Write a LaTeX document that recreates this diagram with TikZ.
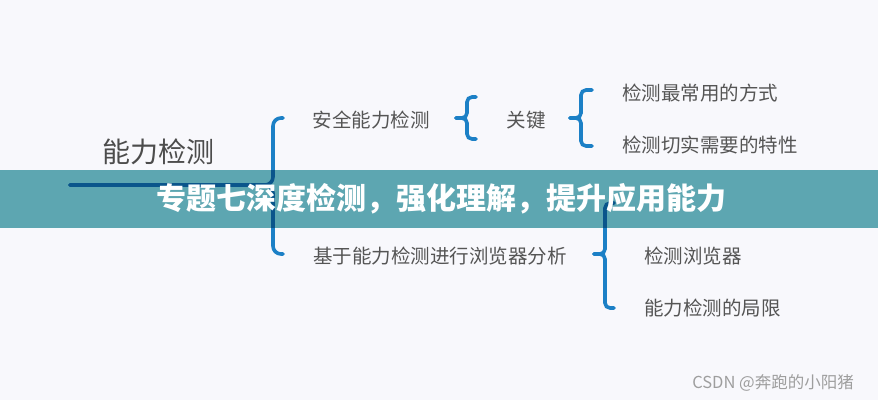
\documentclass[tikz,border=0pt]{standalone}
\usepackage{fontspec}
\setmainfont{Noto Sans CJK SC}
\usetikzlibrary{positioning,calc}
\definecolor{bgpaper}{RGB}{248,248,252}
\definecolor{braceblue}{RGB}{28,128,198}
\definecolor{bannerteal}{RGB}{96,171,180}
\definecolor{labelgray}{RGB}{85,85,85}
\tikzset{every picture/.style={line width=0.75pt}}
\tikzset{
  bracestyle/.style={braceblue, line width=3.6pt, line cap=round, rounded corners=#1},
  bracestyle/.default=5pt,
  itemtext/.style={text=labelgray, font=\fontsize{19.5}{22}\selectfont, inner sep=0pt},
}
% 花括号：尖端x, 竖线x, 钩x, 上, 中, 下
\newcommand{\curlybrace}[7][5pt]{%
  \draw[bracestyle=#1] (#4,#5) -- (#3,#5) -- (#3,#6) -- (#2,#6);
  \draw[bracestyle=#1] (#2,#6) -- (#3,#6) -- (#3,#7) -- (#4,#7);}

\begin{document}
\begin{tikzpicture}[x=1pt, y=-1pt]
    % 背景
    \fill[bgpaper] (0,0) rectangle (878,400);
    \useasboundingbox (0,0) rectangle (878,400);

    % 主题
    \node[itemtext, text=labelgray!90!black, font=\fontsize{28}{32}\selectfont] (main) at (158,152) {能力检测};

    % 第一层
    \node[itemtext] (safe) at (371,120) {安全能力检测};
    \node[itemtext] (browser) at (440,256) {基于能力检测进行浏览器分析};

    % 第二层
    \node[itemtext] (key) at (526,120) {关键};
    \node[itemtext, anchor=west] (way) at (622,93) {检测最常用的方式};
    \node[itemtext, anchor=west] (need) at (622,145) {检测切实需要的特性};
    \node[itemtext, anchor=west] (check) at (644,256) {检测浏览器};
    \node[itemtext, anchor=west] (limit) at (644,308) {能力检测的局限};

    % 大括号与下划线
    \curlybrace[8pt]{70}{273}{283}{118}{185}{254}

    % 小括号
    \curlybrace{456}{467}{476}{97}{118}{139}
    \curlybrace{570}{581}{592}{90}{118}{146}
    \curlybrace{594}{605}{614}{203}{254}{308}

    % 横幅
    \fill[bannerteal, blend mode=multiply] (0,170) rectangle (878,228);
    \node[text=white, font=\bfseries\fontsize{30}{34}\selectfont, inner sep=0pt] (title) at (441,199)
        {专题七深度检测，强化理解，提升应用能力};

    % 水印
    \node[text=black!38, font=\fontsize{16.5}{19}\selectfont, inner sep=0pt] (mark) at (773,383) {CSDN @奔跑的小阳猪};
\end{tikzpicture}
\end{document}
